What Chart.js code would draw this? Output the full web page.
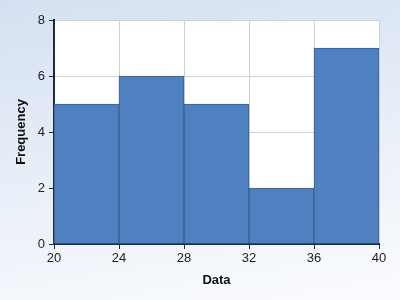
<!DOCTYPE html>
<html>
<head>
<meta charset="utf-8">
<script src="https://cdn.jsdelivr.net/npm/chart.js@4"></script>
<style>
    html, body { margin: 0; padding: 0; }
    body {
        width: 400px;
        height: 300px;
        background: linear-gradient(170deg, #d4e0f1 0%, #e6edf7 45%, #fbfcfe 100%);
    }
    #wrap { width: 400px; height: 300px; position: relative; }
</style>
</head>
<body>
<div id="wrap"><canvas id="histChart"></canvas></div>
<script>
// Histogram bins (centres) and counts
const binCentres = [22, 26, 30, 34, 38];
const frequencies = [5, 6, 5, 2, 7];
const xTicks = [20, 24, 28, 32, 36, 40];
const yTicks = [0, 2, 4, 6, 8];

const axisColor = '#1c2c40';
const gridColor = '#d0d0d0';

// White fill behind the plot area
const plotBackground = {
    id: 'plotBackground',
    beforeDraw(chart) {
        const { ctx, chartArea } = chart;
        ctx.save();
        ctx.fillStyle = '#ffffff';
        ctx.fillRect(chartArea.left, chartArea.top, chartArea.width, chartArea.height);
        ctx.restore();
    }
};

const ctx = document.getElementById('histChart').getContext('2d');

new Chart(ctx, {
    type: 'bar',
    data: {
        datasets: [{
            data: binCentres.map((x, i) => ({ x: x, y: frequencies[i] })),
            backgroundColor: '#4f81c1',
            borderColor: '#36608f',
            borderWidth: 1,
            barPercentage: 1,
            categoryPercentage: 1
        }]
    },
    options: {
        responsive: true,
        maintainAspectRatio: false,
        animation: false,
        layout: { padding: { top: 20, right: 21, left: 0, bottom: 0 } },
        plugins: {
            legend: { display: false },
            tooltip: { enabled: false }
        },
        scales: {
            x: {
                type: 'linear',
                min: 20,
                max: 40,
                offset: false,
                afterBuildTicks: scale => { scale.ticks = xTicks.map(v => ({ value: v })); },
                afterFit: scale => { scale.height = 56; },
                grid: { offset: false, color: gridColor, tickColor: axisColor, tickLength: 5, lineWidth: 1 },
                border: { color: axisColor, width: 2 },
                ticks: { color: '#222', font: { family: 'Liberation Sans, Arial', size: 13 }, padding: 2, maxRotation: 0 },
                title: {
                    display: true,
                    text: 'Data',
                    color: '#111',
                    font: { family: 'Liberation Sans, Arial', size: 13, weight: 'bold' },
                    padding: { top: 2, bottom: 12 }
                }
            },
            y: {
                min: 0,
                max: 8,
                afterBuildTicks: scale => { scale.ticks = yTicks.map(v => ({ value: v })); },
                afterFit: scale => { scale.width = 54; },
                grid: { color: gridColor, tickColor: axisColor, tickLength: 5, lineWidth: 1 },
                border: { color: axisColor, width: 2 },
                ticks: { color: '#222', font: { family: 'Liberation Sans, Arial', size: 13 }, padding: 4 },
                title: {
                    display: true,
                    text: 'Frequency',
                    color: '#111',
                    font: { family: 'Liberation Sans, Arial', size: 13, weight: 'bold' },
                    padding: { top: 14, bottom: 0 }
                }
            }
        }
    },
    plugins: [plotBackground]
});
</script>
</body>
</html>
